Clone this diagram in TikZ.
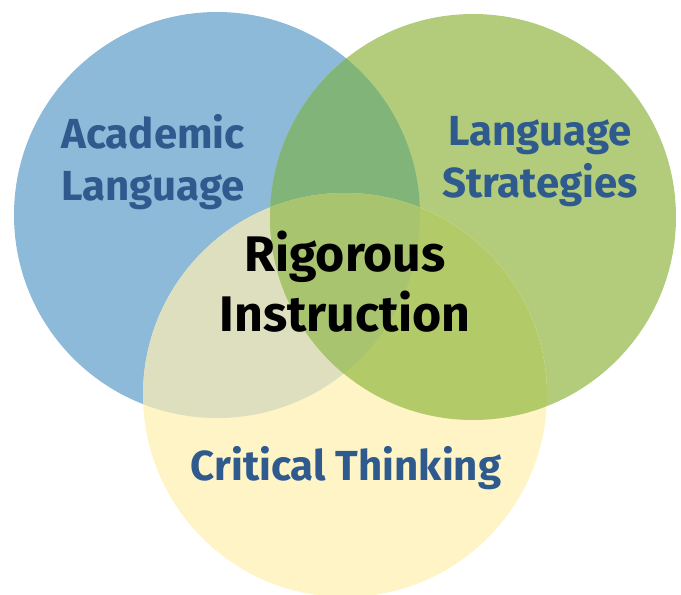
\documentclass[tikz,border=0pt]{standalone}
\usepackage{fontspec}
\setmainfont{Fira Sans}
\usetikzlibrary{positioning}

\definecolor{acblue}{HTML}{8CBAD8}
\definecolor{lsgreen}{HTML}{B2CC7B}
\definecolor{ctyellow}{HTML}{FEF4C6}
\definecolor{bluegreen}{HTML}{80B478}
\definecolor{blueyellow}{HTML}{DDDFBF}
\definecolor{greenyellow}{HTML}{B3CA69}
\definecolor{allthree}{HTML}{A9C46E}
\definecolor{labelblue}{HTML}{2E5A8E}

\begin{document}
\begin{tikzpicture}[x=1pt,y=-1pt,
                    semithick]
	  \tikzstyle{label}=[text=labelblue,align=center,font=\bfseries\fontsize{42}{52}\selectfont]
	  \tikzstyle{core}=[text=black,align=center,font=\bfseries\fontsize{50}{60}\selectfont]
	  \useasboundingbox (0,0) rectangle (681,595);

	  \coordinate (AL) at (217,215);
	  \coordinate (LS) at (473,217);
	  \coordinate (CT) at (345,395);

	  % the three circles
	  \fill[acblue]   (AL) circle[radius=203pt];
	  \fill[lsgreen]  (LS) circle[radius=203pt];
	  \fill[ctyellow] (CT) circle[radius=202pt];

	  % overlaps
	  \begin{scope}
	    \clip (AL) circle[radius=203pt];
	    \fill[bluegreen]  (LS) circle[radius=203pt];
	    \fill[blueyellow] (CT) circle[radius=202pt];
	  \end{scope}
	  \begin{scope}
	    \clip (LS) circle[radius=203pt];
	    \fill[greenyellow] (CT) circle[radius=202pt];
	    \clip (AL) circle[radius=203pt];
	    \fill[allthree] (CT) circle[radius=202pt];
	  \end{scope}

	  \node[label] (acad)  at (153,162) {Academic\\Language};
	  \node[label] (strat) at (540,162) {Language\\Strategies};
	  \node[label] (crit)  at (346,468) {Critical Thinking};
	  \node[core]  (rig)   at (345,282) {Rigorous\\Instruction};
	\end{tikzpicture}
\end{document}
